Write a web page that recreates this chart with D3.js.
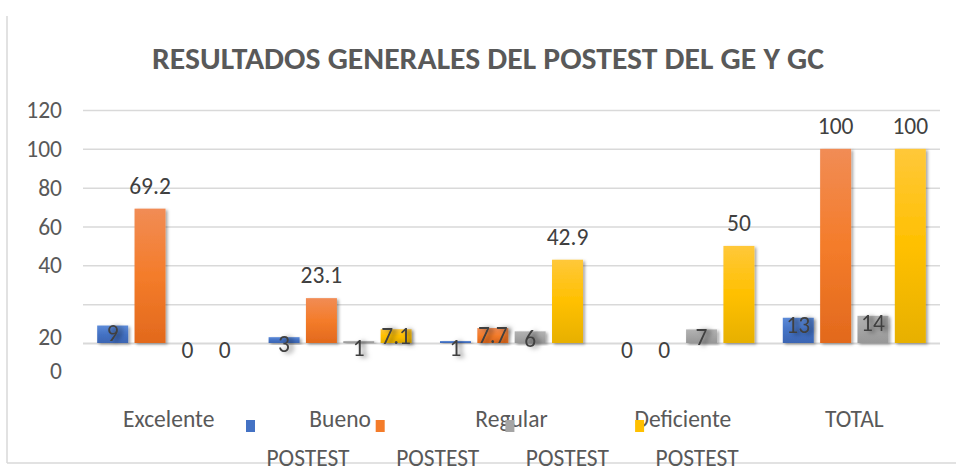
<!DOCTYPE html>
<html>
<head>
<meta charset="utf-8">
<script src="https://cdn.jsdelivr.net/npm/d3@7"></script>
<style>
  html, body { margin: 0; padding: 0; background: #fff; }
  svg { display: block; font-family: Carlito, Calibri, Lato, sans-serif; }
</style>
</head>
<body>
<svg id="chart" width="956" height="471"></svg>
<script>
// Data
const categories = ['Excelente', 'Bueno', 'Regular', 'Deficiente', 'TOTAL'];
const geCount = [9, 3, 1, 0, 13];
const gePercent = [69.2, 23.1, 7.7, 0, 100];
const gcCount = [0, 1, 6, 7, 14];
const gcPercent = [0, 7.1, 42.9, 50, 100];
const seriesNames = ['POSTEST', 'POSTEST', 'POSTEST', 'POSTEST'];
const yTicks = [0, 20, 40, 60, 80, 100, 120];

const TITLE = 'RESULTADOS GENERALES DEL POSTEST DEL GE Y GC';

// Excel-ish palette: [top, middle, bottom] of each bar gradient
const PALETTE = [
  ['#5c8ad8', '#4472c4', '#3b65b3'],
  ['#f18c55', '#f47c2a', '#e2691d'],
  ['#b3b3b3', '#a5a5a5', '#979797'],
  ['#ffc83a', '#ffc000', '#e7b000']
];
const TEXT_COLOR = '#595959';
const LABEL_COLOR = '#404040';
const GRID_COLOR = '#d9d9d9';
const FONT_SIZE = 23.5;

const series = [geCount, gePercent, gcCount, gcPercent];
const rows = categories.map((c, i) => ({
  category: c,
  values: series.map((s, k) => ({ key: k, value: s[i] }))
}));

const svg = d3.select('#chart');
const defs = svg.append('defs');

PALETTE.forEach((stops, k) => {
  const g = defs.append('linearGradient')
    .attr('id', `grad${k}`)
    .attr('x1', 0).attr('y1', 0).attr('x2', 0).attr('y2', 1);
  g.append('stop').attr('offset', '0%').attr('stop-color', stops[0]);
  g.append('stop').attr('offset', '50%').attr('stop-color', stops[1]);
  g.append('stop').attr('offset', '100%').attr('stop-color', stops[2]);
});

// Soft shadow behind bars
defs.append('filter')
  .attr('id', 'barShadow')
  .attr('x', '-20%').attr('y', '-10%').attr('width', '160%').attr('height', '130%')
  .append('feDropShadow')
    .attr('dx', 2).attr('dy', 1.5).attr('stdDeviation', 1.6)
    .attr('flood-color', '#000').attr('flood-opacity', 0.35);

// Dark smudge that sits behind the labels drawn on top of small bars
defs.append('filter')
  .attr('id', 'labelShadow')
  .attr('x', '-50%').attr('y', '-50%').attr('width', '220%').attr('height', '200%')
  .append('feDropShadow')
    .attr('dx', 4).attr('dy', 1).attr('stdDeviation', 2.6)
    .attr('flood-color', '#000').attr('flood-opacity', 0.55);

// Chart border (left and bottom edges are visible)
svg.append('line')
  .attr('x1', 7).attr('x2', 7).attr('y1', 16).attr('y2', 463)
  .attr('stroke', GRID_COLOR).attr('stroke-width', 1.5);
svg.append('line')
  .attr('x1', 7).attr('x2', 956).attr('y1', 463).attr('y2', 463)
  .attr('stroke', GRID_COLOR).attr('stroke-width', 1.5);

// Title
svg.append('text')
  .attr('x', 488).attr('y', 69)
  .attr('text-anchor', 'middle')
  .attr('fill', TEXT_COLOR)
  .attr('font-weight', 700)
  .attr('font-size', 30)
  .attr('textLength', 672)
  .attr('lengthAdjust', 'spacingAndGlyphs')
  .text(TITLE);

// Scales
const plot = { left: 83, right: 940, top: 110, bottom: 343 };

const x0 = d3.scaleBand()
  .domain(categories)
  .range([plot.left, plot.right]);

const x1 = d3.scaleBand()
  .domain(d3.range(series.length))
  .range([0, x0.bandwidth()])
  .paddingInner(0.17)
  .paddingOuter(0.38);

const y = d3.scaleLinear()
  .domain([0, 120])
  .range([plot.bottom, plot.top]);

// Gridlines + tick labels (0 and 20 sit lower than their lines in the original)
const yAxis = svg.append('g')
  .attr('transform', `translate(${plot.left},0)`)
  .call(d3.axisLeft(y)
    .tickValues(yTicks)
    .tickSize(-(plot.right - plot.left))
    .tickPadding(21)
    .tickFormat(d => (d >= 40 ? d : '')));

yAxis.select('.domain').remove();
yAxis.selectAll('.tick line')
  .attr('stroke', GRID_COLOR)
  .attr('stroke-width', d => (d === 0 ? 2 : 1.5));
yAxis.selectAll('.tick text')
  .attr('fill', TEXT_COLOR)
  .attr('font-size', FONT_SIZE)
  .attr('font-family', 'Carlito, Calibri, Lato, sans-serif');

const lowLabels = [
  { text: yTicks[1], offset: -6 },
  { text: yTicks[0], offset: 28 }
];
svg.append('g')
  .selectAll('text')
  .data(lowLabels)
  .join('text')
    .attr('x', plot.left - 21)
    .attr('y', d => y(0) + d.offset)
    .attr('dy', '0.35em')
    .attr('text-anchor', 'end')
    .attr('fill', TEXT_COLOR)
    .attr('font-size', FONT_SIZE)
    .text(d => d.text);

// Bars
const groups = svg.append('g')
  .selectAll('g')
  .data(rows)
  .join('g')
    .attr('transform', d => `translate(${x0(d.category)},0)`);

groups.selectAll('rect')
  .data(d => d.values)
  .join('rect')
    .attr('x', d => x1(d.key))
    .attr('y', d => y(d.value))
    .attr('width', x1.bandwidth())
    .attr('height', d => y(0) - y(d.value))
    .attr('fill', d => `url(#grad${d.key})`)
    .attr('filter', d => (d.value > 0 ? 'url(#barShadow)' : null));

// Value labels: large bars get the label above, small ones overlap the top
groups.selectAll('text')
  .data(d => d.values)
  .join('text')
    .attr('x', d => x1(d.key) + x1.bandwidth() / 2)
    .attr('y', d => (d.value > 20 ? y(d.value) - 23 : y(d.value) + 7))
    .attr('dy', '0.35em')
    .attr('text-anchor', 'middle')
    .attr('fill', LABEL_COLOR)
    .attr('font-size', FONT_SIZE)
    .attr('filter', d => (d.value > 0 && d.value <= 20 ? 'url(#labelShadow)' : null))
    .text(d => d.value);

// Category labels
svg.append('g')
  .selectAll('text')
  .data(categories)
  .join('text')
    .attr('x', d => x0(d) + x0.bandwidth() / 2)
    .attr('y', 427)
    .attr('text-anchor', 'middle')
    .attr('fill', TEXT_COLOR)
    .attr('font-size', FONT_SIZE)
    .text(d => d);

// Legend: tiny swatches with the series name wrapped underneath
const legend = svg.append('g')
  .selectAll('g')
  .data(seriesNames)
  .join('g')
    .attr('transform', (d, i) => `translate(${246 + i * 129.7},420)`);

legend.append('rect')
  .attr('width', 9)
  .attr('height', 12)
  .attr('fill', (d, i) => PALETTE[i][1]);

legend.append('text')
  .attr('x', 62)
  .attr('y', 46)
  .attr('text-anchor', 'middle')
  .attr('fill', TEXT_COLOR)
  .attr('font-size', FONT_SIZE)
  .text(d => d);
</script>
</body>
</html>
